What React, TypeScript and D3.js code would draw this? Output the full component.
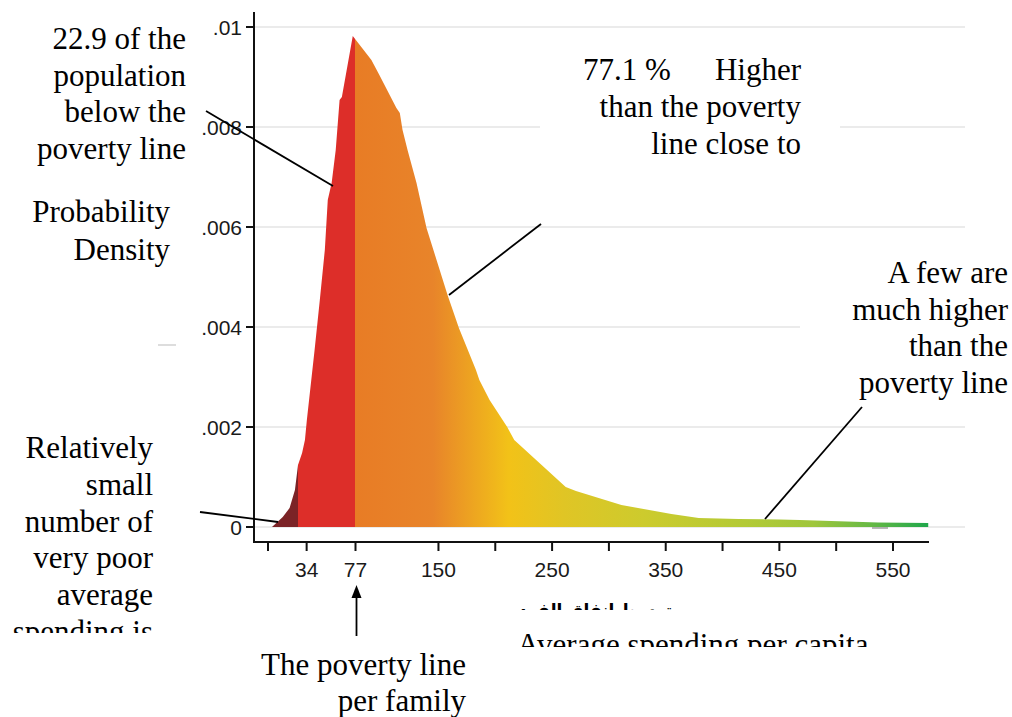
import React from 'react';
import * as d3 from 'd3';

// ---- data ----
const spending = [3.5, 13, 19, 23.7, 26.4, 30, 32.5, 34.2, 41, 45.6, 50, 52.6, 56, 59.6, 63, 65, 74.6, 91, 98, 113, 116, 118.4, 122.8, 130.7, 139.5, 158, 168, 183, 186, 195, 210.5, 216.7, 262, 271, 311, 355, 379, 414, 450, 468, 537, 581];
const density = [0, 0.0002, 0.00038, 0.00074, 0.00124, 0.00148, 0.00174, 0.00214, 0.00354, 0.00454, 0.00554, 0.00654, 0.00688, 0.00754, 0.00854, 0.0086, 0.00982, 0.00934, 0.00904, 0.00838, 0.00828, 0.00794, 0.00754, 0.00688, 0.00598, 0.00464, 0.00398, 0.00314, 0.00294, 0.00254, 0.002, 0.00174, 0.0008, 0.00072, 0.00044, 0.00026, 0.00018, 0.00016, 0.00015, 0.00014, 0.00009, 0.00008];

const yTicks = [0, 0.002, 0.004, 0.006, 0.008, 0.01];
const yTickLabels = ['0', '.002', '.004', '.006', '.008', '.01'];
const xTicks = [0, 34, 77, 150, 200, 250, 300, 350, 400, 450, 500, 550];
const xTickLabels = ['', '34', '77', '150', '', '250', '', '350', '', '450', '', '550'];

const veryPoorLimit = 26.4;
const povertyLine = 77;

// gradient colour stops along spending (value, colour)
const colorStops: [number, string][] = [
  [0, '#7b2326'], [veryPoorLimit, '#7b2326'],
  [veryPoorLimit, '#dd2e29'], [povertyLine, '#dd2e29'],
  [povertyLine, '#e87c25'], [145, '#e8842a'], [212, '#f2c218'],
  [260, '#e0c525'], [330, '#cdcb2d'], [420, '#b3ca36'],
  [480, '#9fc63c'], [530, '#67b945'], [581, '#1fa74b'],
];

const SERIF = '"Liberation Serif", "Times New Roman", serif';
const SANS = '"Liberation Sans", Arial, sans-serif';

export default function App() {
  const W = 1012, H = 717;
  const x = d3.scaleLinear().domain([0, 550]).range([268, 893]);
  const y = d3.scaleLinear().domain([0, 0.01]).range([527, 27]);
  const xMin = x.invert(254), xMax = x.invert(929);
  const yTop = y.invert(12);
  const axisY = 542;

  const pts = spending.map((s, i) => [s, density[i]] as [number, number]);
  const area = d3.area<[number, number]>()
    .x(d => x(d[0]))
    .y0(y(0))
    .y1(d => y(d[1]))
    .curve(d3.curveLinear);

  const g0 = x(0), g1 = x(581);
  const off = (v: number) => (x(v) - g0) / (g1 - g0);

  const serifText = (lines: string[], xr: number, y0: number, dy: number, anchor = 'end') =>
    lines.map((t, i) => (
      <text key={t + i} x={xr} y={y0 + i * dy} textAnchor={anchor} fontFamily={SERIF} fontSize={31} fill="#000">{t}</text>
    ));

  return (
    <svg width={W} height={H} viewBox={`0 0 ${W} ${H}`} style={{ display: 'block', position: 'absolute', left: 0, top: 0, background: '#fff' }}>
      <defs>
        <linearGradient id="dens" gradientUnits="userSpaceOnUse" x1={g0} x2={g1} y1={0} y2={0}>
          {colorStops.map(([v, c], i) => (
            <stop key={i} offset={off(v)} stopColor={c} />
          ))}
        </linearGradient>
        <clipPath id="clipSpend"><rect x={0} y={600} width={260} height={33} /></clipPath>
        <clipPath id="clipAvg"><rect x={480} y={615} width={450} height={32} /></clipPath>
        <clipPath id="clipArab"><rect x={500} y={595} width={200} height={15} /></clipPath>
      </defs>
      <rect x={0} y={0} width={W} height={H} fill="#fff" />

      {/* grid */}
      {yTicks.map(t => (
        <line key={'g' + t} x1={254} x2={965} y1={y(t)} y2={y(t)} stroke="#e4e4e4" strokeWidth={1.5} />
      ))}
      {/* text boxes that hide the grid */}
      <rect x={540} y={100} width={300} height={60} fill="#fff" />
      <rect x={800} y={300} width={212} height={40} fill="#fff" />

      {/* density area */}
      <path d={area(pts) || ''} fill="url(#dens)" />

      {/* small artefacts */}
      <line x1={872} x2={888} y1={528} y2={528} stroke="#888" strokeWidth={1.2} />
      <line x1={158} x2={176} y1={345} y2={345} stroke="#bbb" strokeWidth={1} />

      {/* y axis */}
      <line x1={254} x2={254} y1={y(yTop)} y2={axisY + 1} stroke="#111" strokeWidth={2} />
      {yTicks.map((t, i) => (
        <g key={'yt' + t}>
          <line x1={246} x2={254} y1={y(t)} y2={y(t)} stroke="#111" strokeWidth={2} />
          <text x={242} y={y(t) + 7.5} textAnchor="end" fontFamily={SANS} fontSize={21} fill="#1a1a1a">{yTickLabels[i]}</text>
        </g>
      ))}

      {/* x axis */}
      <line x1={x(xMin)} x2={x(xMax)} y1={axisY} y2={axisY} stroke="#111" strokeWidth={2} />
      {xTicks.map((t, i) => (
        <g key={'xt' + t}>
          <line x1={x(t)} x2={x(t)} y1={axisY} y2={axisY + 9} stroke="#111" strokeWidth={2} />
          {xTickLabels[i] && (
            <text x={x(t)} y={577} textAnchor="middle" fontFamily={SANS} fontSize={21} fill="#1a1a1a">{xTickLabels[i]}</text>
          )}
        </g>
      ))}

      {/* annotation lines */}
      <line x1={206} y1={111} x2={333} y2={186} stroke="#000" strokeWidth={1.8} />
      <line x1={449} y1={295} x2={541} y2={224} stroke="#000" strokeWidth={1.8} />
      <line x1={765} y1={519} x2={862} y2={407} stroke="#000" strokeWidth={1.8} />
      <line x1={200} y1={512} x2={278} y2={522} stroke="#000" strokeWidth={1.8} />

      {/* poverty line arrow */}
      <line x1={x(povertyLine) + 1} x2={x(povertyLine) + 1} y1={636} y2={594} stroke="#000" strokeWidth={1.8} />
      <path d={`M${x(povertyLine) + 1},585 L${x(povertyLine) - 4},598 L${x(povertyLine) + 6},598 Z`} fill="#000" />

      {/* texts */}
      {serifText(['22.9 of the', 'population', 'below the', 'poverty line'], 186, 49, 36.5)}
      {serifText(['Probability', 'Density'], 170, 222, 38)}
      {serifText(['Relatively', 'small', 'number of', 'very poor', 'average'], 153, 458, 36.8)}
      <g clipPath="url(#clipSpend)">
        {serifText(['spending is'], 153, 642, 0)}
      </g>
      <text x={583} y={80} fontFamily={SERIF} fontSize={31} fill="#000">77.1 %</text>
      <text x={801} y={80} textAnchor="end" fontFamily={SERIF} fontSize={31} fill="#000">Higher</text>
      {serifText(['than the poverty', 'line close to'], 801, 117, 36.5)}
      {serifText(['A few are', 'much higher', 'than the', 'poverty line'], 1008, 283, 36.5)}
      {serifText(['The poverty line'], 466, 675, 0)}
      {serifText(['per family'], 466, 711, 0)}
      <g clipPath="url(#clipAvg)">
        <text x={517} y={655} fontFamily={SERIF} fontSize={31} fill="#000">Average spending per capita</text>
      </g>
      <g clipPath="url(#clipArab)">
        <text x={601} y={616} textAnchor="middle" fontFamily={'"DejaVu Sans", sans-serif'} fontWeight="bold" fontSize={17} fill="#000" direction="rtl">متوسط انفاق الفرد</text>
      </g>
    </svg>
  );
}
